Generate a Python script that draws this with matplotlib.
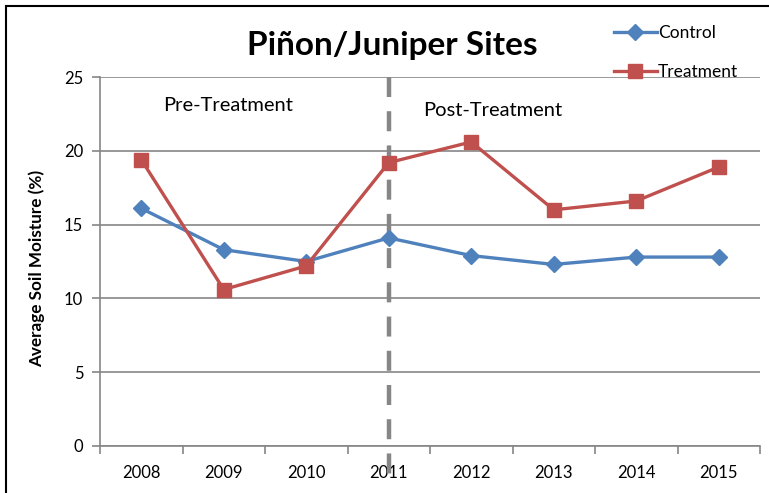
import matplotlib.pyplot as plt
from matplotlib.lines import Line2D
from matplotlib.patches import Rectangle

# ---------- data ----------
years = ['2008', '2009', '2010', '2011', '2012', '2013', '2014', '2015']
control = [16.1, 13.3, 12.5, 14.1, 12.9, 12.3, 12.8, 12.8]
treatment = [19.4, 10.6, 12.2, 19.2, 20.6, 16.0, 16.6, 18.9]
split_year = '2011'

blue = '#4F81BD'
red = '#C0504D'
grey = '#868686'

plt.rcParams['font.family'] = ['Lato', 'DejaVu Sans']

fig = plt.figure(figsize=(7.69, 4.93), dpi=100)
ax = fig.add_axes([100 / 769, 1 - 446 / 493, 660 / 769, 369 / 493])

x = list(range(len(years)))
ax.plot(x, control, color=blue, lw=2.4, marker='D', ms=8, zorder=4)
ax.plot(x, treatment, color=red, lw=2.4, marker='s', ms=9.5, zorder=4)

# treatment split line
xs = years.index(split_year)
ax.plot([xs, xs], [25, -1.9], color=grey, lw=3.2, dashes=(4.5, 3.2),
        clip_on=False, zorder=3)

ax.set_xlim(-0.5, len(years) - 0.5)
ax.set_ylim(0, 25)
ax.set_yticks(range(0, 26, 5))
ax.yaxis.grid(True, color=grey, lw=1.2)
ax.set_axisbelow(True)

ax.set_xticks(x)
ax.set_xticklabels(years, fontsize=12)
ax.set_xticks([i - 0.5 for i in range(len(years) + 1)], minor=True)
ax.tick_params(axis='x', which='major', length=0, pad=14)
ax.tick_params(axis='x', which='minor', length=6, width=1.2, color=grey)
ax.tick_params(axis='y', length=6, width=1.2, color=grey, labelsize=12, pad=6)

for s in ['top', 'right']:
    ax.spines[s].set_visible(False)
for s in ['left', 'bottom']:
    ax.spines[s].set_color(grey)
    ax.spines[s].set_linewidth(1.2)

ax.set_ylabel('Average Soil Moisture (%)', fontsize=12.3, fontweight='bold', labelpad=4)
ax.yaxis.set_label_coords(-0.083, 0.48)

ax.text(1.05, 23.1, 'Pre-Treatment', fontsize=14.5, ha='center', va='center')
ax.text(4.26, 22.75, 'Post-Treatment', fontsize=14.5, ha='center', va='center')

fig.text(392 / 769, 1 - 45 / 493, 'Piñon/Juniper Sites', fontsize=24,
         fontweight='bold', ha='center', va='center')

handles = [Line2D([], [], color=blue, lw=2.4, marker='D', ms=8),
           Line2D([], [], color=red, lw=2.4, marker='s', ms=9.5)]
fig.legend(handles, ['Control', 'Treatment'], loc='upper left',
           bbox_to_anchor=(598 / 769, 1 - 9 / 493), frameon=False,
           fontsize=12.5, labelspacing=1.35, handlelength=2.5, handletextpad=0.05)

# chart border (only left/top visible in the original crop)
fig.patches.append(Rectangle((6 / 769, -0.1), 1.2, 1 - 6 / 493 + 0.1,
                             transform=fig.transFigure, fill=False,
                             edgecolor='black', lw=1.5))

fig.savefig('out.png', dpi=100)
